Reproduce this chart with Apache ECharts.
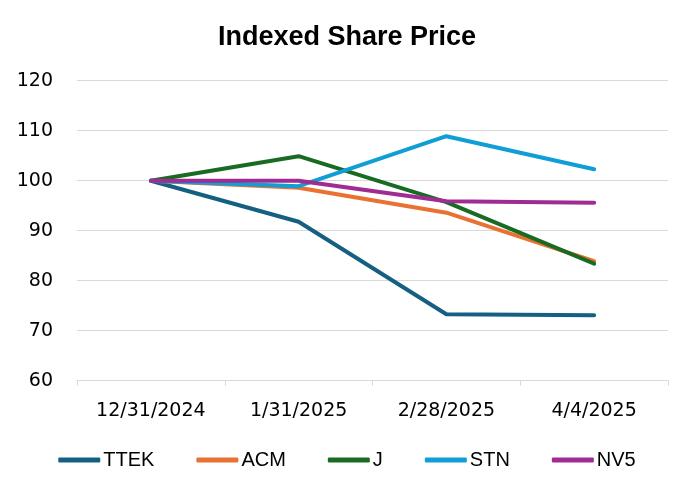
<!DOCTYPE html>
<html><head><meta charset="utf-8">
<script src="https://cdn.jsdelivr.net/npm/echarts@6/dist/echarts.min.js"></script>
<style>html,body{margin:0;padding:0;background:#fff}#c{width:694px;height:490px}</style>
</head><body><div id="c"></div>
<script>
const categories = ['12/31/2024', '1/31/2025', '2/28/2025', '4/4/2025'];
const TTEK = [100, 91.8, 73.3, 73.1];
const ACM = [100, 98.6, 93.6, 83.9];
const J = [100, 104.9, 95.7, 83.4];
const STN = [100, 98.9, 108.9, 102.3];
const NV5 = [100, 100.0, 95.9, 95.6];
const seriesNames = ['TTEK', 'ACM', 'J', 'STN', 'NV5'];
const seriesData = [TTEK, ACM, J, STN, NV5];
const colors = ['#156082', '#E97132', '#196B24', '#0F9ED5', '#A02B93'];
const yTicks = { min: 60, max: 120, interval: 10 };

const chart = echarts.init(document.getElementById('c'), null, { renderer: 'canvas' });
chart.setOption({
  animation: false,
  color: colors,
  title: {
    text: 'Indexed Share Price',
    left: 'center',
    top: 19,
    textStyle: { fontFamily: 'Liberation Sans', fontWeight: 'bold', fontSize: 27, color: '#000' }
  },
  grid: { left: 77, right: 26, top: 80.7, bottom: 109.3, containLabel: false },
  legend: {
    bottom: 15,
    left: 'center',
    itemWidth: 42,
    itemHeight: 5,
    itemGap: 42,
    icon: 'roundRect',
    textStyle: { fontFamily: 'Liberation Sans', fontSize: 20, color: '#000', padding: [0, 0, 0, -2] },
    data: seriesNames
  },
  xAxis: {
    type: 'category',
    data: categories,
    boundaryGap: true,
    axisLine: { lineStyle: { color: '#d9d9d9', width: 1 } },
    axisTick: { show: true, length: 5, lineStyle: { color: '#d9d9d9' } },
    axisLabel: { fontFamily: 'DejaVu Sans', fontSize: 19, color: '#000', margin: 21 }
  },
  yAxis: {
    type: 'value',
    min: yTicks.min, max: yTicks.max, interval: yTicks.interval,
    axisLine: { show: false },
    axisTick: { show: false },
    splitLine: { lineStyle: { color: '#d9d9d9', width: 1 } },
    axisLabel: { fontFamily: 'DejaVu Sans', fontSize: 19, color: '#000', margin: 24 }
  },
  series: seriesNames.map((n, i) => ({
    name: n,
    type: 'line',
    data: seriesData[i],
    symbol: 'none',
    lineStyle: { width: 4, color: colors[i], cap: 'round', join: 'round' },
    itemStyle: { color: colors[i] }
  }))
});
</script></body></html>
